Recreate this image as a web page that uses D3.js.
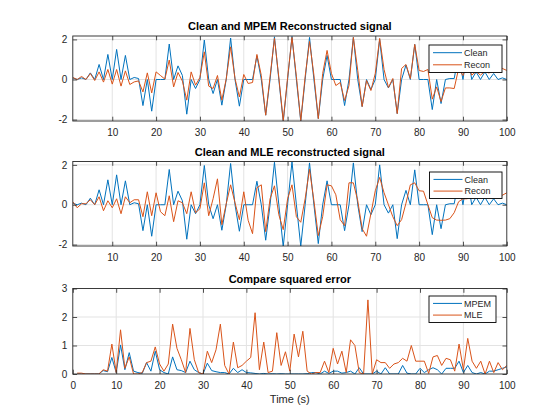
<!DOCTYPE html>
<html>
<head>
<meta charset="utf-8">
<script src="https://cdn.jsdelivr.net/npm/d3@7/dist/d3.min.js"></script>
<style>
  html, body { margin: 0; padding: 0; background: #ffffff; }
  svg { display: block; }
  text { font-family: "Liberation Sans", Arial, Helvetica, sans-serif; }
</style>
</head>
<body>
<svg id="chart" width="560" height="420"></svg>
<script>
// ---------------- data ----------------
const clean = [0.08,0,0.08,0,0.33,0,0.75,0,1.25,0,
  1.5,0,1.2,0,0.1,0.05,-1.3,0,-1.58,0,
  0,0,1.77,0,0.68,0.2,-1.73,0,-0.45,0,
  1.97,0,-0.7,0,-1.28,0,2.07,0,-1.33,0,
  0,0,1.18,0,-1.78,0,2.13,0,-2.1,0,
  2.15,0,-2.08,0,2.1,0,-1.95,0,1.2,0,
  0,0,-1.3,0,2.1,0,-1.35,0,-0.5,0,
  2.0,0,-0.42,0,-1.7,0,0.72,0,1.75,0,
  0,0,-1.5,0,-1.2,0,0.05,0.05,1.2,0,
  1.4,0,0.38,0,0.38,0,0.3,0,0.08,0];

const reconMPEM = [0.1,0,0.15,0,0.3,-0.05,0.38,-0.13,0.5,-0.23,
  0.5,-0.33,0.43,-0.25,-0.12,-0.07,-0.62,0.33,-0.67,0.38,
  0.2,0.02,0.97,-0.37,0.35,-0.08,-1.03,0.38,-0.28,0.1,
  1.38,-0.33,-0.45,0.2,-1.03,0.03,1.63,0.05,-0.87,0.25,
  -0.2,-0.15,1.25,0.2,-1.78,0.15,2.05,0.1,-2.05,0.1,
  2.1,0.15,-2.05,0.15,1.9,0.22,-1.95,0.3,1.45,0.3,
  -0.3,-0.15,-1.05,-0.3,2.1,0.45,-1.35,-0.05,-0.55,0.3,
  2.05,0.5,-0.4,0.05,-1.7,0.55,0.75,0.05,1.75,0.45,
  0.4,0.5,-0.98,-0.37,-1.1,-0.42,-0.42,-0.45,0.53,0.2,
  0.85,0.22,0.4,0.22,0.4,0.32,0.6,0.5,0.55,0.45];

const reconMLE = [0.15,-0.15,0.05,0.05,0.25,0,0.4,-0.3,0.2,-0.15,
  0.3,-0.45,0.4,0.1,0.25,0.25,-0.6,0.65,-0.55,0.6,
  -0.35,-0.55,0.45,-0.85,0.2,0.1,-0.45,0.65,-0.4,-0.2,
  1.1,-0.55,0.3,1.3,-1.0,0.05,1.0,0.1,-0.75,0.65,
  -0.78,-1.45,0.85,1.0,-1.35,0.3,0.95,-0.5,-1.25,0.3,
  1.0,-0.6,-0.88,0.3,1.78,0.2,-1.55,-0.6,1.0,0.95,
  0.5,-0.75,-1.05,1.1,1.1,0.2,-1.2,-1.58,-0.45,0.7,
  1.37,0.6,0.0,-0.6,-1.05,-0.75,0.08,1.0,1.1,0.7,
  0.68,0.0,-0.65,-0.77,-0.78,-0.77,-0.7,-0.4,0.15,0.3,
  0.3,0.67,0.85,0.67,0.45,0.67,0.55,0.62,0.48,0.6];

const errMPEM = [0,0,0,0,0,0,0.12,0.08,0.58,0.05,
  1.02,0.15,0.75,0.1,0.05,0.02,0.4,0.1,0.8,0.15,
  0.05,0,0.6,0.15,0.12,0.05,0.45,0.15,0.05,0,
  0.38,0.12,0.08,0.05,0.05,0,0.2,0.05,0.15,0.05,
  0.04,0.02,0,0.02,0,0.01,0,0.01,0,0,
  0,0,0,0.01,0.05,0.05,0,0.1,0.02,0.1,
  0.1,0.03,0.05,0.1,0,0.22,0,0,0,0.1,
  0,0.22,0,0,0,0.3,0.03,0,0,0.2,
  0.05,0.15,0.22,0.15,0,0.2,0.2,0.2,0.45,0.05,
  0.3,0.05,0,0.05,0,0.1,0.1,0.15,0.2,0.25];

const errMLE = [0.03,0.03,0,0,0,0,0.15,0.1,1.05,0.05,
  1.55,0.2,0.6,0,0,0.05,0.4,0.45,0.95,0.35,
  0.1,0.35,1.75,0.9,0.5,0.05,1.6,0.5,0.05,0,
  0.8,0.4,0.85,1.75,0.3,0,1.12,0.22,0.3,0.45,
  0.58,2.15,0.15,1.12,0.05,0.1,1.45,0.3,0.78,0.1,
  1.4,0.6,1.5,0.1,0,0.05,0.05,0.45,0.05,0.9,
  0.35,0.8,0.05,1.2,1.0,0.05,0,2.6,0,0.5,
  0.4,0.4,0.2,0.35,0.4,0.55,0.45,1.0,0.45,0.45,
  0.45,0.02,0.6,0.65,0.3,0.55,0.5,0.1,1.05,0.15,
  1.25,0.45,0.2,0.45,0,0.45,0.05,0.4,0.15,0.3];

const xTicksSignal = [10,20,30,40,50,60,70,80,90,100];
const xTicksError = [0,10,20,30,40,50,60,70,80,90,100];
const yTicksSignal = [-2,0,2];
const yTicksError = [0,1,2,3];
const titles = ["Clean and MPEM Reconstructed signal",
                "Clean and MLE reconstructed signal",
                "Compare squared error"];
const legendSignal = ["Clean", "Recon"];
const legendError = ["MPEM", "MLE"];
const xLabelText = "Time (s)";

// ---------------- drawing ----------------
const BLUE = "#0072BD", ORANGE = "#D95319", AX = "#262626", GRID = "#e3e3e3";
const svg = d3.select("#chart");
const left = 72.8, right = 506.8, tickLen = 4.3;
const fmt = d => String(d);   // MATLAB style hyphen-minus

function panel(opt) {
  const idx = d3.range(1, opt.series[0].values.length + 1);
  const x = d3.scaleLinear().domain(opt.xDomain).range([left, right]);
  const y = d3.scaleLinear().domain(opt.yDomain).range([opt.bottom, opt.top]);
  const g = svg.append("g");

  // grid
  g.append("g").selectAll("line").data(opt.xTicks.filter(t => t > opt.xDomain[0] && t < opt.xDomain[1]))
    .join("line").attr("x1", d => x(d)).attr("x2", d => x(d))
    .attr("y1", opt.top).attr("y2", opt.bottom)
    .attr("stroke", GRID).attr("stroke-width", 1);
  g.append("g").selectAll("line").data(opt.yTicks.filter(t => t > opt.yDomain[0] && t < opt.yDomain[1]))
    .join("line").attr("x1", left).attr("x2", right)
    .attr("y1", d => y(d)).attr("y2", d => y(d))
    .attr("stroke", GRID).attr("stroke-width", 1);

  // clip
  const cid = "clip" + opt.id;
  svg.append("clipPath").attr("id", cid).append("rect")
    .attr("x", left).attr("y", opt.top).attr("width", right - left).attr("height", opt.bottom - opt.top);

  const line = d3.line().x((d, i) => x(idx[i])).y(d => y(d));
  opt.series.forEach(s => {
    g.append("path").datum(s.values).attr("d", line)
      .attr("fill", "none").attr("stroke", s.color).attr("stroke-width", 1)
      .attr("stroke-linejoin", "round").attr("clip-path", `url(#${cid})`);
  });

  // axes
  const bottomAx = g.append("g").attr("transform", `translate(0,${opt.bottom})`)
    .call(d3.axisBottom(x).tickValues(opt.xTicks).tickFormat(fmt).tickSizeInner(-tickLen).tickSizeOuter(0).tickPadding(7.5));
  const topAx = g.append("g").attr("transform", `translate(0,${opt.top})`)
    .call(d3.axisTop(x).tickValues(opt.xTicks).tickFormat("").tickSizeInner(-tickLen).tickSizeOuter(0));
  const leftAx = g.append("g").attr("transform", `translate(${left},0)`)
    .call(d3.axisLeft(y).tickValues(opt.yTicks).tickFormat(fmt).tickSizeInner(-tickLen).tickSizeOuter(0).tickPadding(5.5));
  const rightAx = g.append("g").attr("transform", `translate(${right},0)`)
    .call(d3.axisRight(y).tickValues(opt.yTicks).tickFormat("").tickSizeInner(-tickLen).tickSizeOuter(0));
  [bottomAx, topAx, leftAx, rightAx].forEach(a => {
    a.select(".domain").remove();
    a.selectAll(".tick line").attr("stroke", AX).attr("stroke-width", 0.8);
    a.selectAll(".tick text").attr("fill", AX).style("font-size", "10px")
      .style("font-family", '"Liberation Sans", Arial, Helvetica, sans-serif');
  });

  // box
  g.append("rect").attr("x", left).attr("y", opt.top)
    .attr("width", right - left).attr("height", opt.bottom - opt.top)
    .attr("fill", "none").attr("stroke", AX).attr("stroke-width", 0.9);

  // title
  g.append("text").attr("x", (left + right) / 2).attr("y", opt.top - 6)
    .attr("text-anchor", "middle").attr("font-weight", "bold").attr("font-size", 11)
    .attr("fill", "#000").text(opt.title);

  // legend
  const L = opt.legend;
  const lg = g.append("g");
  lg.append("rect").attr("x", L.x).attr("y", L.y).attr("width", L.w).attr("height", L.h)
    .attr("fill", "#fff").attr("stroke", "#000").attr("stroke-width", 0.9);
  L.labels.forEach((lab, i) => {
    const yy = L.y + L.h * (i === 0 ? 0.28 : 0.72);
    lg.append("line").attr("x1", L.x + 4).attr("x2", L.x + 33).attr("y1", yy).attr("y2", yy)
      .attr("stroke", opt.series[i].color).attr("stroke-width", 1);
    lg.append("text").attr("x", L.x + 35).attr("y", yy).attr("dy", "0.35em")
      .attr("font-size", 9).attr("fill", AX).text(lab);
  });
  return {x, y};
}

panel({ id: 1, top: 36, bottom: 121, xDomain: [1, 100], yDomain: [-2.07, 2.17],
  xTicks: xTicksSignal, yTicks: yTicksSignal, title: titles[0],
  series: [{values: clean, color: BLUE}, {values: reconMPEM, color: ORANGE}],
  legend: {x: 429, y: 45, w: 73, h: 27.5, labels: legendSignal} });

panel({ id: 2, top: 161.5, bottom: 246, xDomain: [1, 100], yDomain: [-2.07, 2.17],
  xTicks: xTicksSignal, yTicks: yTicksSignal, title: titles[1],
  series: [{values: clean, color: BLUE}, {values: reconMLE, color: ORANGE}],
  legend: {x: 429.5, y: 172, w: 72.5, h: 26.5, labels: legendSignal} });

panel({ id: 3, top: 288.5, bottom: 374, xDomain: [0, 100], yDomain: [0, 3],
  xTicks: xTicksError, yTicks: yTicksError, title: titles[2],
  series: [{values: errMPEM, color: BLUE}, {values: errMLE, color: ORANGE}],
  legend: {x: 429, y: 296, w: 67, h: 26.5, labels: legendError} });

svg.append("text").attr("x", (left + right) / 2).attr("y", 403)
  .attr("text-anchor", "middle").attr("font-size", 11).attr("fill", AX).text(xLabelText);
</script>
</body>
</html>
